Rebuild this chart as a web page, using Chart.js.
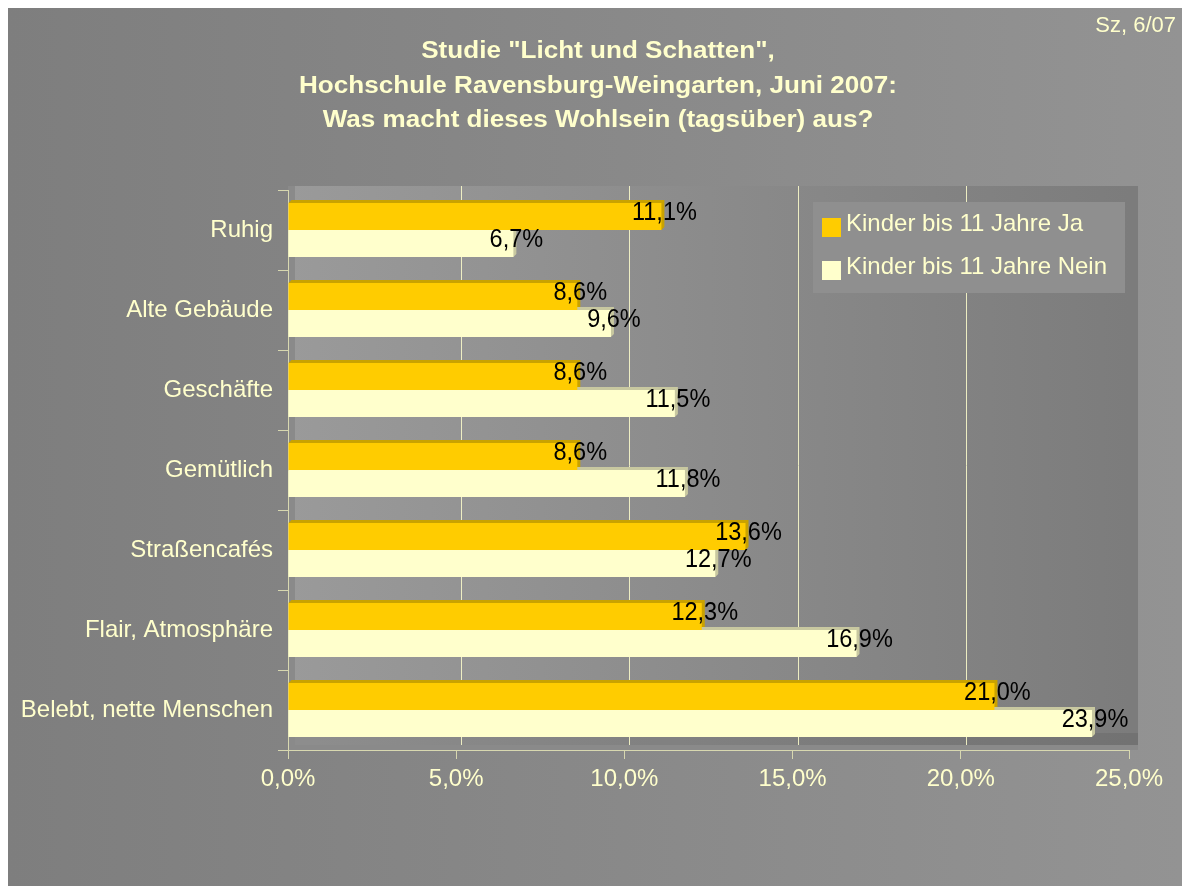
<!DOCTYPE html>
<html>
<head>
<meta charset="utf-8">
<script src="https://cdn.jsdelivr.net/npm/chart.js@4/dist/chart.umd.min.js"></script>
<style>
html,body{margin:0;padding:0;background:#fff;}
#wrap{width:1182px;height:886px;}
</style>
</head>
<body>
<div id="wrap"><canvas id="c" width="1182" height="886"></canvas></div>
<script>
const categories = ["Ruhig", "Alte Gebäude", "Geschäfte", "Gemütlich", "Straßencafés", "Flair, Atmosphäre", "Belebt, nette Menschen"];
const jaValues = [11.1, 8.6, 8.6, 8.6, 13.6, 12.3, 21.0];
const neinValues = [6.7, 9.6, 11.5, 11.8, 12.7, 16.9, 23.9];
const seriesNames = ["Kinder bis 11 Jahre Ja", "Kinder bis 11 Jahre Nein"];
const titleLines = ['Studie "Licht und Schatten",', 'Hochschule Ravensburg-Weingarten, Juni 2007:', 'Was macht dieses Wohlsein (tagsüber) aus?'];
const cornerNote = "Sz, 6/07";

const CREAM = "#FFFFCC";
const ORANGE = "#FFCC00";
const FONT = "'Liberation Sans', Arial, sans-serif";
const fmt = v => v.toFixed(1).replace('.', ',') + '%';

const bgPlugin = {
  id: 'bg',
  beforeDraw(chart) {
    const ctx = chart.ctx, a = chart.chartArea;
    ctx.save();
    ctx.fillStyle = '#fff';
    ctx.fillRect(0, 0, chart.width, chart.height);
    const g = ctx.createLinearGradient(8, 0, chart.width, 0);
    g.addColorStop(0, '#7e7e7e');
    g.addColorStop(1, '#939393');
    ctx.fillStyle = g;
    ctx.fillRect(8, 8, chart.width - 8, chart.height - 8);
    ctx.fillStyle = '#8a8a8a';
    ctx.fillRect(a.left, a.top - 4, a.right - a.left + 9, a.bottom - a.top + 4);
    const wg = ctx.createLinearGradient(a.left, 0, a.right, 0);
    wg.addColorStop(0, '#9a9a9a');
    wg.addColorStop(1, '#7c7c7c');
    ctx.fillStyle = wg;
    ctx.fillRect(a.left + 7, a.top - 4, a.right - a.left + 2, a.bottom - a.top - 1);
    ctx.fillStyle = 'rgba(0,0,0,0.08)';
    ctx.fillRect(a.left + 7, a.bottom - 17, a.right - a.left + 2, 12);
    ctx.restore();
  },
  beforeDatasetsDraw(chart) {
    const ctx = chart.ctx, a = chart.chartArea, xs = chart.scales.x;
    ctx.save();
    ctx.strokeStyle = 'rgba(255,255,204,0.85)';
    ctx.lineWidth = 1;
    xs.ticks.forEach(t => {
      if (t.value <= xs.min || t.value >= xs.max) return;
      const px = Math.round(xs.getPixelForValue(t.value) + 5) + 0.5;
      ctx.beginPath();
      ctx.moveTo(px, a.top - 4);
      ctx.lineTo(px, a.bottom - 5);
      ctx.stroke();
    });
    const dx = 3, dy = 3;
    const edgeColors = ['#C9A200', '#C8C8A0'];
    chart.data.datasets.forEach((ds, di) => {
      const meta = chart.getDatasetMeta(di);
      meta.data.forEach(bar => {
        const p = bar.getProps(['x', 'y', 'base', 'height'], true);
        const top = p.y - p.height / 2, bot = p.y + p.height / 2;
        ctx.fillStyle = edgeColors[di];
        ctx.beginPath();
        ctx.moveTo(p.base, top);
        ctx.lineTo(p.base + dx, top - dy);
        ctx.lineTo(p.x + dx, top - dy);
        ctx.lineTo(p.x + dx, bot - dy);
        ctx.lineTo(p.x, bot);
        ctx.closePath();
        ctx.fill();
      });
    });
    ctx.restore();
  },
  afterDatasetsDraw(chart) {
    const ctx = chart.ctx;
    ctx.save();
    ctx.font = '25px ' + FONT;
    ctx.fillStyle = '#000';
    ctx.textAlign = 'center';
    ctx.textBaseline = 'middle';
    chart.data.datasets.forEach((ds, di) => {
      const meta = chart.getDatasetMeta(di);
      meta.data.forEach((bar, i) => {
        const p = bar.getProps(['x', 'y'], true);
        ctx.save();
        ctx.translate(p.x + 3, p.y - 3);
        ctx.scale(0.94, 1);
        ctx.fillText(fmt(ds.data[i]), 0, 0);
        ctx.restore();
      });
    });
    ctx.restore();
  },
  afterDraw(chart) {
    const ctx = chart.ctx;
    ctx.save();
    ctx.fillStyle = CREAM;
    ctx.font = 'bold 23px ' + FONT;
    ctx.textAlign = 'center';
    ctx.textBaseline = 'alphabetic';
    const w2 = ctx.measureText(titleLines[1]).width;
    const sx = 598 / w2;
    const baselines = [58, 93, 127];
    titleLines.forEach((t, i) => {
      ctx.save();
      ctx.translate(598, baselines[i]);
      ctx.scale(sx, 1);
      ctx.fillText(t, 0, 0);
      ctx.restore();
    });
    ctx.font = '22px ' + FONT;
    ctx.textAlign = 'right';
    ctx.fillText(cornerNote, 1176, 32);
    ctx.fillStyle = '#8f8f8f';
    ctx.fillRect(813, 202, 312, 91);
    ctx.font = '24px ' + FONT;
    ctx.textAlign = 'left';
    ctx.textBaseline = 'middle';
    chart.data.datasets.forEach((ds, i) => {
      const cy = 227 + i * 43;
      ctx.fillStyle = ds.backgroundColor;
      ctx.fillRect(822, cy - 9, 19, 19);
      ctx.fillStyle = CREAM;
      ctx.fillText(ds.label, 846, cy - 3);
    });
    ctx.restore();
  }
};

new Chart(document.getElementById('c'), {
  type: 'bar',
  data: {
    labels: categories,
    datasets: [
      { label: seriesNames[0], data: jaValues, backgroundColor: ORANGE, borderWidth: 0 },
      { label: seriesNames[1], data: neinValues, backgroundColor: CREAM, borderWidth: 0 }
    ]
  },
  options: {
    indexAxis: 'y',
    responsive: false,
    animation: false,
    devicePixelRatio: 1,
    layout: { padding: { top: 190, right: 53, left: 0, bottom: 0 } },
    datasets: { bar: { categoryPercentage: 0.675, barPercentage: 1.0 } },
    plugins: { legend: { display: false }, title: { display: false }, tooltip: { enabled: false } },
    scales: {
      x: {
        min: 0, max: 25,
        ticks: { stepSize: 5, color: CREAM, font: { family: FONT, size: 24 }, padding: 6, callback: v => fmt(v) },
        grid: { drawOnChartArea: false, drawTicks: true, tickLength: 9, color: '#D8D8B0' },
        border: { display: true, color: '#D8D8B0' },
        afterFit: s => { s.height = 136; }
      },
      y: {
        ticks: { color: CREAM, font: { family: FONT, size: 24 }, padding: 5 },
        grid: { drawOnChartArea: false, drawTicks: true, tickLength: 10, offset: true, color: '#D8D8B0' },
        border: { display: true, color: '#D8D8B0' },
        afterFit: s => { s.width = 288; }
      }
    }
  },
  plugins: [bgPlugin]
});
</script>
</body>
</html>
